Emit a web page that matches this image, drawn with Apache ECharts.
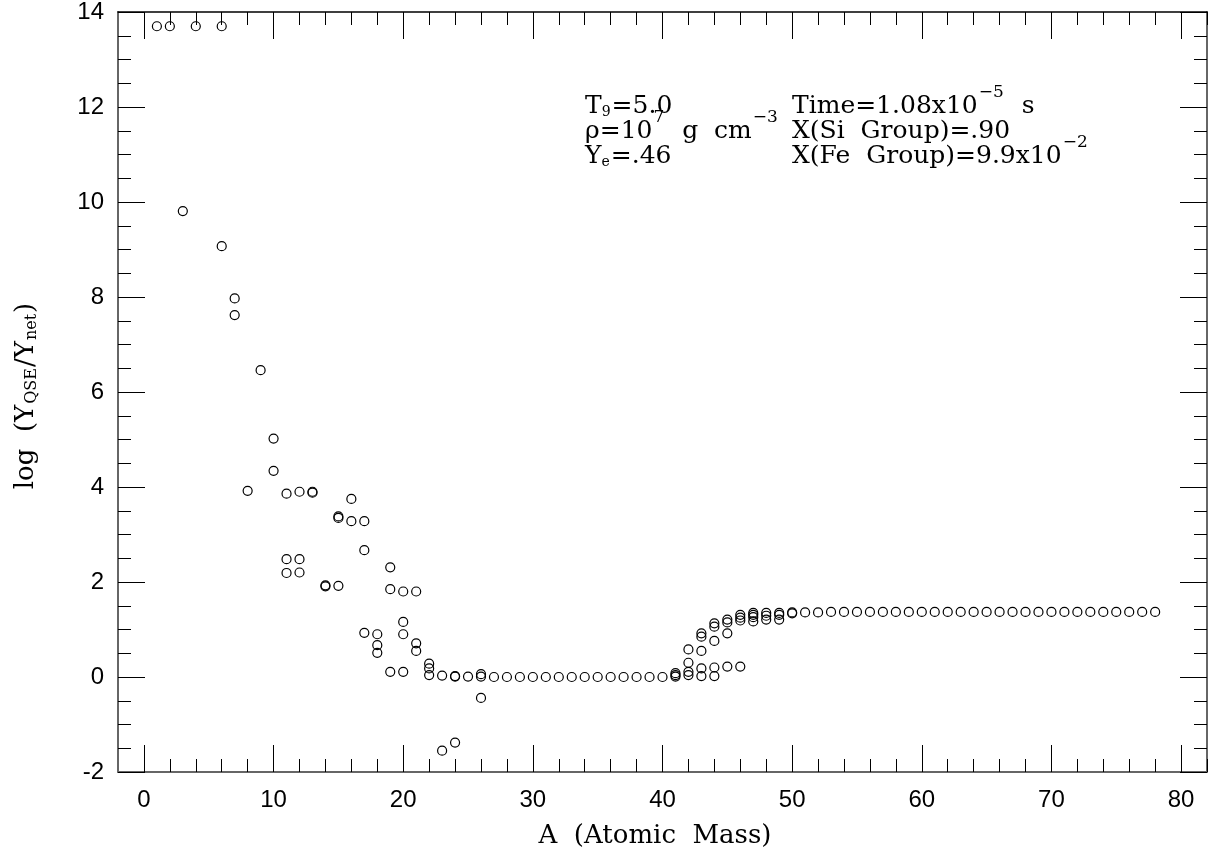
<!DOCTYPE html>
<html>
<head>
<meta charset="utf-8">
<script src="https://cdn.jsdelivr.net/npm/echarts@6/dist/echarts.min.js"></script>
<style>
html,body{margin:0;padding:0;background:#fff;}
#chart{width:1209px;height:852px;}
</style>
</head>
<body>
<div id="chart"></div>
<script>
// ---- data ----
const massNumbers = [
  1, 2, 3, 4, 6, 6, 7, 7, 8, 9, 10, 10,
  11, 11, 11, 12, 12, 12, 13, 13, 14, 14, 15, 15, 15, 16, 16,
  17, 17, 17, 18, 18, 18, 19, 19, 19, 20, 20, 20, 20, 21, 21, 21,
  22, 22, 22, 23, 23, 24, 24, 24, 25, 26, 26, 26,
  27, 28, 29, 30, 31, 32, 33, 34, 35, 36, 37, 38, 39, 40,
  41, 41, 41, 42, 42, 42, 42, 43, 43, 43, 43, 43, 44, 44, 44, 44, 44,
  45, 45, 45, 45, 46, 46, 46, 46, 47, 47, 47, 47, 48, 48, 48, 49, 49, 49, 50, 50,
  51, 52, 53, 54, 55, 56, 57, 58, 59, 60, 61, 62, 63, 64,
  65, 66, 67, 68, 69, 70, 71, 72, 73, 74, 75, 76, 77, 78
];
const logRatios = [
  13.70, 13.70, 9.81, 13.70, 13.70, 9.07, 7.97, 7.62, 3.92, 6.46, 5.02, 4.34,
  3.86, 2.48, 2.19, 3.90, 2.48, 2.20, 3.90, 3.88, 1.93, 1.91, 3.38, 3.35, 1.92, 3.75, 3.28,
  3.28, 2.67, 0.93, 0.90, 0.67, 0.51, 2.31, 1.85, 0.11, 1.80, 1.16, 0.90, 0.11, 1.80, 0.71, 0.55,
  0.28, 0.18, 0.04, 0.03, -1.55, 0.02, 0.01, -1.38, 0.01, 0.06, 0.01, -0.44,
  0.00, 0.00, 0.00, 0.00, 0.00, 0.00, 0.00, 0.00, 0.00, 0.00, 0.00, 0.00, 0.00, 0.00,
  0.08, 0.04, 0.01, 0.58, 0.30, 0.11, 0.04, 0.92, 0.85, 0.55, 0.18, 0.02, 1.13, 1.06, 0.76, 0.20, 0.02,
  1.21, 1.15, 0.92, 0.22, 1.31, 1.25, 1.19, 0.22, 1.35, 1.31, 1.26, 1.17, 1.35, 1.29, 1.21, 1.35, 1.31, 1.21, 1.36, 1.34,
  1.36, 1.36, 1.37, 1.37, 1.37, 1.37, 1.37, 1.37, 1.37, 1.37, 1.37, 1.37, 1.37, 1.37,
  1.37, 1.37, 1.37, 1.37, 1.37, 1.37, 1.37, 1.37, 1.37, 1.37, 1.37, 1.37, 1.37, 1.37
];
const xMajorTicks = [0, 10, 20, 30, 40, 50, 60, 70, 80];
const xMinorTicks = [2, 4, 6, 8, 12, 14, 16, 18, 22, 24, 26, 28, 32, 34, 36, 38,
  42, 44, 46, 48, 52, 54, 56, 58, 62, 64, 66, 68, 72, 74, 76, 78, 82];

const points = massNumbers.map((a, i) => [a, logRatios[i]]);

const SERIF = '"DejaVu Serif", "Liberation Serif", serif';
const SANS = '"Liberation Sans", Arial, sans-serif';

function xAx(position, ticks, len, showLabel, showLine, lineColor, lineWidth) {
  return {
    type: 'value', position: position, min: -2, max: 82,
    axisLine: { show: showLine, onZero: false, lineStyle: { color: lineColor, width: lineWidth } },
    axisTick: { show: true, inside: true, length: len, customValues: ticks, lineStyle: { color: '#000', width: 1 } },
    axisLabel: showLabel ? { show: true, customValues: ticks, fontSize: 24, fontFamily: SANS, color: '#000', margin: 16 } : { show: false },
    splitLine: { show: false }
  };
}
function yAx(position, showLabel, lineColor, lineWidth) {
  return {
    type: 'value', position: position, min: -2, max: 14, interval: 2,
    axisLine: { show: true, onZero: false, lineStyle: { color: lineColor, width: lineWidth } },
    axisTick: { show: true, inside: true, length: 27, lineStyle: { color: '#000', width: 1 } },
    minorTick: { show: true, splitNumber: 4, length: 13, lineStyle: { color: '#000', width: 1 } },
    axisLabel: showLabel ? { show: true, fontSize: 24, fontFamily: SANS, color: '#000', margin: 14 } : { show: false },
    splitLine: { show: false }, minorSplitLine: { show: false }
  };
}

const annRich = {
  b: { fontSize: 25, fontFamily: SERIF, color: '#000' },
  sup: { fontSize: 17, fontFamily: SERIF, color: '#000', padding: [0, 2, 26, 1] },
  sub: { fontSize: 14, fontFamily: SERIF, color: '#000', padding: [12, 1, 0, 0] }
};
const labelRich = {
  b: { fontSize: 26, fontFamily: SERIF, color: '#000' },
  sub: { fontSize: 16, fontFamily: SERIF, color: '#000', padding: [12, 1, 0, 1] }
};
function ann(x, y, text) {
  return {
    type: 'text', x: x, y: y, silent: true,
    style: { text: text, rich: annRich, align: 'left', verticalAlign: 'middle', fill: '#000', font: '25px ' + SERIF }
  };
}

const chart = echarts.init(document.getElementById('chart'), null, { renderer: 'canvas' });
chart.setOption({
  animation: false,
  backgroundColor: '#fff',
  grid: { left: 118, right: 2, top: 12, bottom: 80, containLabel: false },
  xAxis: [
    xAx('bottom', xMajorTicks, 27, true, true, '#666', 2),
    xAx('bottom', xMinorTicks, 13, false, false, '#666', 2),
    xAx('top', xMajorTicks, 27, false, true, '#000', 1.5),
    xAx('top', xMinorTicks, 13, false, false, '#000', 1.5)
  ],
  yAxis: [
    yAx('left', true, '#666', 2),
    yAx('right', false, '#666', 2)
  ],
  series: [{
    type: 'scatter', xAxisIndex: 0, yAxisIndex: 0,
    data: points, symbol: 'circle', symbolSize: 9,
    itemStyle: { color: 'rgba(0,0,0,0)', borderColor: '#000', borderWidth: 1.2, opacity: 1 }
  }],
  graphic: [
    ann(585, 106, '{b|T}{sub|9}{b|=5.0}'),
    ann(585, 131, '{b|ρ=10}{sup|7}{b|  g  cm}{sup|−3}'),
    ann(585, 156, '{b|Y}{sub|e}{b|=.46}'),
    ann(792, 106, '{b|Time=1.08x10}{sup|−5}{b|  s}'),
    ann(792, 131, '{b|X(Si  Group)=.90}'),
    ann(792, 156, '{b|X(Fe  Group)=9.9x10}{sup|−2}'),
    {
      type: 'text', x: 655, y: 836, silent: true,
      style: { text: 'A  (Atomic  Mass)', align: 'center', verticalAlign: 'middle', fill: '#000', font: '26px ' + SERIF }
    },
    {
      type: 'text', x: 26, y: 396, rotation: Math.PI / 2, silent: true,
      style: { text: '{b|log  (Y}{sub|QSE}{b|/Y}{sub|net}{b|)}', rich: labelRich, align: 'center', verticalAlign: 'middle', fill: '#000', font: '26px ' + SERIF }
    }
  ]
});
</script>
</body>
</html>
